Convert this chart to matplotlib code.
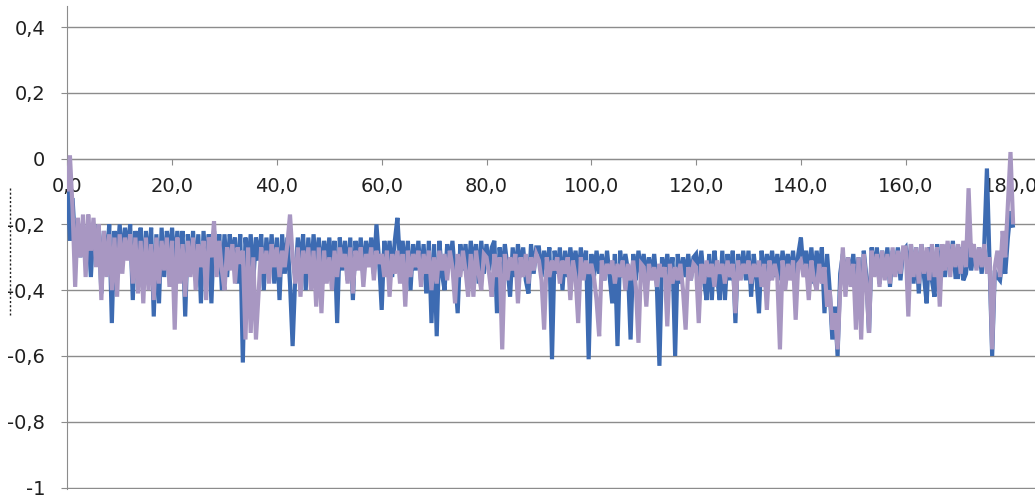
import numpy as np
import matplotlib
matplotlib.use("Agg")
import matplotlib.pyplot as plt
from matplotlib.lines import Line2D

# ---------------------------------------------------------------------
# Data (one value every 0.5 on the x axis)
# ---------------------------------------------------------------------
X_STEP = 0.5

blue_values = [
    # 0 - 9.5
    -0.05, -0.25, -0.12, -0.26, -0.21, -0.30, -0.20, -0.27, -0.22, -0.36,
    -0.21, -0.30, -0.20, -0.41, -0.22, -0.33, -0.20, -0.50, -0.22, -0.31,
    # 10 - 19.5
    -0.20, -0.32, -0.21, -0.28, -0.20, -0.43, -0.22, -0.30, -0.21, -0.38,
    -0.22, -0.33, -0.21, -0.48, -0.23, -0.44, -0.21, -0.36, -0.22, -0.30,
    # 20 - 29.5
    -0.21, -0.34, -0.22, -0.31, -0.22, -0.48, -0.23, -0.33, -0.22, -0.37,
    -0.23, -0.44, -0.22, -0.35, -0.23, -0.44, -0.22, -0.33, -0.23, -0.40,
    # 30 - 39.5
    -0.23, -0.36, -0.23, -0.30, -0.24, -0.38, -0.23, -0.62, -0.24, -0.33,
    -0.23, -0.37, -0.24, -0.31, -0.23, -0.40, -0.24, -0.34, -0.23, -0.38,
    # 40 - 49.5
    -0.24, -0.43, -0.23, -0.35, -0.24, -0.38, -0.57, -0.36, -0.24, -0.33,
    -0.23, -0.40, -0.24, -0.36, -0.23, -0.34, -0.24, -0.37, -0.25, -0.32,
    # 50 - 59.5
    -0.24, -0.35, -0.25, -0.50, -0.24, -0.34, -0.25, -0.37, -0.24, -0.43,
    -0.25, -0.33, -0.24, -0.36, -0.25, -0.32, -0.24, -0.35, -0.20, -0.31,
    # 60 - 69.5
    -0.46, -0.25, -0.33, -0.25, -0.36, -0.25, -0.18, -0.32, -0.25, -0.35,
    -0.25, -0.40, -0.26, -0.34, -0.25, -0.37, -0.26, -0.41, -0.25, -0.50,
    # 70 - 79.5
    -0.26, -0.54, -0.25, -0.35, -0.40, -0.26, -0.33, -0.25, -0.36, -0.47,
    -0.26, -0.34, -0.26, -0.37, -0.25, -0.33, -0.26, -0.38, -0.25, -0.35,
    # 80 - 89.5
    -0.26, -0.34, -0.27, -0.25, -0.47, -0.27, -0.35, -0.26, -0.33, -0.42,
    -0.27, -0.36, -0.26, -0.34, -0.27, -0.37, -0.41, -0.26, -0.35, -0.27,
    # 90 - 99.5
    -0.27, -0.36, -0.28, -0.34, -0.27, -0.61, -0.28, -0.35, -0.27, -0.40,
    -0.28, -0.36, -0.27, -0.34, -0.28, -0.37, -0.27, -0.35, -0.28, -0.61,
    # 100 - 109.5
    -0.29, -0.36, -0.28, -0.35, -0.29, -0.37, -0.28, -0.36, -0.44, -0.29,
    -0.57, -0.28, -0.36, -0.29, -0.34, -0.55, -0.29, -0.37, -0.28, -0.35,
    # 110 - 119.5
    -0.29, -0.37, -0.30, -0.36, -0.29, -0.38, -0.63, -0.30, -0.36, -0.29,
    -0.37, -0.30, -0.60, -0.29, -0.38, -0.30, -0.36, -0.29, -0.37, -0.30,
    # 120 - 129.5
    -0.29, -0.36, -0.28, -0.37, -0.43, -0.29, -0.43, -0.28, -0.36, -0.43,
    -0.28, -0.43, -0.29, -0.37, -0.28, -0.50, -0.29, -0.36, -0.28, -0.37,
    # 130 - 139.5
    -0.28, -0.42, -0.29, -0.36, -0.47, -0.28, -0.37, -0.29, -0.35, -0.28,
    -0.36, -0.29, -0.37, -0.28, -0.35, -0.29, -0.36, -0.28, -0.37, -0.29,
    # 140 - 149.5
    -0.24, -0.34, -0.28, -0.36, -0.27, -0.38, -0.28, -0.35, -0.27, -0.47,
    -0.29, -0.40, -0.55, -0.45, -0.60, -0.35, -0.29, -0.38, -0.30, -0.36,
    # 150 - 159.5
    -0.29, -0.40, -0.30, -0.45, -0.28, -0.36, -0.53, -0.27, -0.35, -0.27,
    -0.38, -0.28, -0.36, -0.27, -0.39, -0.28, -0.35, -0.27, -0.37, -0.28,
    # 160 - 169.5
    -0.27, -0.35, -0.26, -0.38, -0.27, -0.41, -0.26, -0.36, -0.44, -0.27,
    -0.37, -0.42, -0.26, -0.35, -0.27, -0.36, -0.26, -0.34, -0.25, -0.36,
    # 170 - 180.5
    -0.36, -0.27, -0.37, -0.35, -0.27, -0.34, -0.28, -0.33, -0.27, -0.35,
    -0.26, -0.03, -0.32, -0.60, -0.34, -0.36, -0.37, -0.30, -0.35, -0.24,
    -0.16, -0.21,
]

purple_values = [
    # 0 - 9.5
    -0.10, 0.01, -0.15, -0.39, -0.18, -0.30, -0.17, -0.36, -0.17, -0.28,
    -0.18, -0.33, -0.20, -0.43, -0.22, -0.36, -0.23, -0.40, -0.24, -0.42,
    # 10 - 19.5
    -0.23, -0.35, -0.24, -0.31, -0.23, -0.38, -0.24, -0.41, -0.25, -0.44,
    -0.24, -0.40, -0.26, -0.43, -0.24, -0.38, -0.25, -0.34, -0.24, -0.39,
    # 20 - 29.5
    -0.25, -0.52, -0.24, -0.38, -0.26, -0.42, -0.25, -0.36, -0.24, -0.40,
    -0.26, -0.33, -0.25, -0.43, -0.24, -0.30, -0.19, -0.36, -0.25, -0.34,
    # 30 - 39.5
    -0.40, -0.27, -0.34, -0.26, -0.38, -0.27, -0.32, -0.28, -0.55, -0.27,
    -0.53, -0.30, -0.55, -0.41, -0.27, -0.35, -0.28, -0.38, -0.26, -0.33,
    # 40 - 49.5
    -0.27, -0.36, -0.28, -0.33, -0.26, -0.17, -0.30, -0.38, -0.27, -0.42,
    -0.28, -0.35, -0.27, -0.40, -0.28, -0.45, -0.27, -0.47, -0.28, -0.38,
    # 50 - 59.5
    -0.30, -0.40, -0.28, -0.36, -0.27, -0.33, -0.29, -0.38, -0.27, -0.41,
    -0.28, -0.34, -0.27, -0.39, -0.29, -0.33, -0.27, -0.37, -0.28, -0.32,
    # 60 - 69.5
    -0.29, -0.36, -0.28, -0.42, -0.29, -0.35, -0.28, -0.38, -0.29, -0.45,
    -0.28, -0.36, -0.29, -0.33, -0.28, -0.39, -0.29, -0.35, -0.28, -0.40,
    # 70 - 79.5
    -0.30, -0.38, -0.28, -0.34, -0.29, -0.37, -0.28, -0.33, -0.44, -0.29,
    -0.36, -0.28, -0.34, -0.42, -0.29, -0.42, -0.28, -0.35, -0.40, -0.29,
    # 80 - 89.5
    -0.30, -0.35, -0.42, -0.29, -0.36, -0.30, -0.58, -0.29, -0.37, -0.30,
    -0.34, -0.29, -0.44, -0.30, -0.36, -0.29, -0.38, -0.30, -0.34, -0.29,
    # 90 - 99.5
    -0.31, -0.37, -0.52, -0.30, -0.36, -0.31, -0.34, -0.30, -0.38, -0.31,
    -0.35, -0.30, -0.43, -0.31, -0.36, -0.50, -0.30, -0.37, -0.31, -0.35,
    # 100 - 109.5
    -0.32, -0.36, -0.43, -0.54, -0.31, -0.37, -0.32, -0.35, -0.31, -0.38,
    -0.32, -0.36, -0.31, -0.40, -0.32, -0.37, -0.31, -0.39, -0.56, -0.32,
    # 110 - 119.5
    -0.33, -0.45, -0.32, -0.37, -0.33, -0.39, -0.32, -0.36, -0.33, -0.51,
    -0.32, -0.38, -0.33, -0.37, -0.32, -0.40, -0.52, -0.33, -0.37, -0.32,
    # 120 - 129.5
    -0.33, -0.50, -0.32, -0.38, -0.31, -0.36, -0.32, -0.39, -0.31, -0.35,
    -0.32, -0.38, -0.31, -0.36, -0.32, -0.47, -0.31, -0.37, -0.32, -0.35,
    # 130 - 139.5
    -0.31, -0.38, -0.32, -0.36, -0.31, -0.39, -0.32, -0.46, -0.31, -0.37,
    -0.32, -0.36, -0.58, -0.31, -0.40, -0.32, -0.37, -0.31, -0.49, -0.32,
    # 140 - 149.5
    -0.31, -0.36, -0.32, -0.43, -0.31, -0.37, -0.40, -0.32, -0.38, -0.33,
    -0.45, -0.40, -0.52, -0.47, -0.58, -0.40, -0.27, -0.42, -0.30, -0.39,
    # 150 - 159.5
    -0.32, -0.52, -0.30, -0.55, -0.29, -0.38, -0.53, -0.28, -0.36, -0.29,
    -0.39, -0.28, -0.37, -0.29, -0.38, -0.27, -0.36, -0.28, -0.35, -0.27,
    # 160 - 169.5
    -0.27, -0.48, -0.26, -0.36, -0.27, -0.38, -0.26, -0.35, -0.27, -0.37,
    -0.26, -0.36, -0.27, -0.45, -0.26, -0.34, -0.25, -0.36, -0.26, -0.33,
    # 170 - 180.5
    -0.26, -0.35, -0.25, -0.33, -0.09, -0.30, -0.26, -0.34, -0.27, -0.33,
    -0.26, -0.35, -0.30, -0.58, -0.33, -0.28, -0.36, -0.22, -0.30, -0.14,
    0.02, -0.20,
]

x_ticks = [0, 20, 40, 60, 80, 100, 120, 140, 160, 180]
x_tick_labels = ["0,0", "20,0", "40,0", "60,0", "80,0",
                 "100,0", "120,0", "140,0", "160,0", "180,0"]
y_ticks = [0.4, 0.2, 0.0, -0.2, -0.4, -0.6, -0.8, -1.0]
y_tick_labels = ["0,4", "0,2", "0", "-0,2", "-0,4", "-0,6", "-0,8", "-1"]

BLUE = "#3d6bb2"
PURPLE = "#a897c2"
GRID = "#8c8c8c"
TEXT = "#1f1f1f"

plt.rcParams["font.family"] = ["DejaVu Sans"]

W, H = 1035, 496
fig = plt.figure(figsize=(W / 100, H / 100), dpi=100)

# axes box in pixels: spine at x=67, y=0 at 159 px, y=-1 at 488.5 px
left_px, top_px, bottom_px = 67.3, 6.0, 488.5
px_per_x = 5.24
ax = fig.add_axes([left_px / W, (H - bottom_px) / H,
                   (W - left_px) / W, (bottom_px - top_px) / H])

x_blue = np.arange(len(blue_values)) * X_STEP
x_purple = np.arange(len(purple_values)) * X_STEP
ax.plot(x_blue, blue_values, color=BLUE, lw=3.0,
        solid_joinstyle="miter", solid_capstyle="butt", zorder=3)
ax.plot(x_purple, purple_values, color=PURPLE, lw=3.0,
        solid_joinstyle="miter", solid_capstyle="butt", zorder=4)

ax.set_xlim(0, (W - left_px) / px_per_x)
ax.set_ylim(-1.003, 0.464)

ax.set_yticks(y_ticks)
ax.set_yticklabels(y_tick_labels)
ax.set_xticks(x_ticks)
ax.set_xticklabels(x_tick_labels)

ax.yaxis.grid(True, color=GRID, lw=1.0)
ax.set_axisbelow(True)

for side in ("top", "right"):
    ax.spines[side].set_visible(False)
ax.spines["bottom"].set_position(("data", 0))
ax.spines["bottom"].set_color(GRID)
ax.spines["left"].set_color(GRID)
ax.spines["bottom"].set_zorder(1)

ax.tick_params(axis="y", direction="out", length=4, color=GRID,
               pad=12, labelsize=14, labelcolor=TEXT)
ax.tick_params(axis="x", direction="out", length=4, color=GRID,
               pad=9, labelsize=14, labelcolor=TEXT)

# cropped-off axis title remnant on the far left
fig.add_artist(Line2D([10 / W, 10 / W], [1 - 188 / H, 1 - 315 / H],
                      color="#222222", lw=1.0, ls=(0, (1.5, 1.5))))

fig.savefig("out.png", dpi=100)
